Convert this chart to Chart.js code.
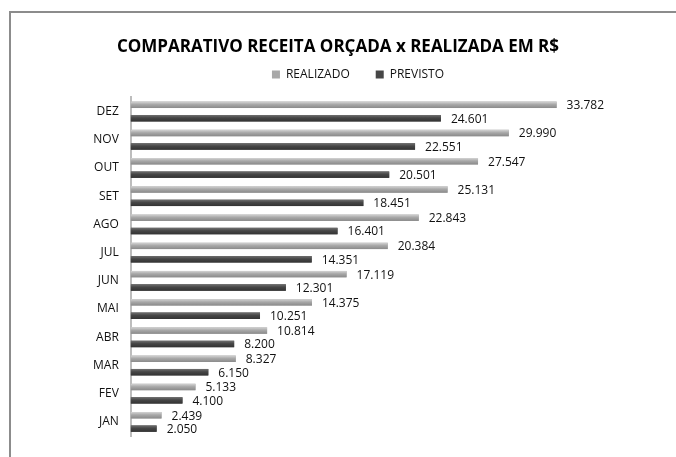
<!DOCTYPE html>
<html>
<head>
<meta charset="utf-8">
<script src="https://cdn.jsdelivr.net/npm/chart.js@4"></script>
<style>
  body { margin: 0; background: #fff; overflow: hidden; }
  #wrap { position: relative; width: 676px; height: 457px; overflow: hidden; }
  #frame { position: absolute; left: 9px; top: 11px; width: 720px; height: 500px;
           border-left: 2px solid #8c8c8c; border-top: 2px solid #8c8c8c; }
  canvas { position: absolute; left: 0; top: 0; }
</style>
</head>
<body>
<div id="wrap">
  <div id="frame"></div>
  <canvas id="receitaChart" width="676" height="457"></canvas>
</div>
<script>
// Dados do grafico
const meses = ['JAN', 'FEV', 'MAR', 'ABR', 'MAI', 'JUN', 'JUL', 'AGO', 'SET', 'OUT', 'NOV', 'DEZ'];
const realizado = [2439, 5133, 8327, 10814, 14375, 17119, 20384, 22843, 25131, 27547, 29990, 33782];
const previsto = [2050, 4100, 6150, 8200, 10251, 12301, 14351, 16401, 18451, 20501, 22551, 24601];

const fontBody = "'Open Sans', 'Liberation Sans', sans-serif";

// formata 33782 -> 33.782
function formatBR(v) {
    return String(v).replace(/\B(?=(\d{3})+(?!\d))/g, '.');
}

// um pouco mais de espaco abaixo da legenda
const legendSpacing = {
    id: 'legendSpacing',
    beforeInit(chart) {
        const fit = chart.legend.fit;
        chart.legend.fit = function () {
            fit.bind(chart.legend)();
            this.height += 7;
        };
    }
};

// titulo centrado na largura toda do canvas
const titleCenter = {
    id: 'titleCenter',
    afterLayout(chart) {
        chart.titleBlock.left = 0;
        chart.titleBlock.right = chart.width;
    }
};

// gradiente tipo cilindro por cima das barras
const barShading = {
    id: 'barShading',
    afterDatasetsDraw(chart) {
        const ctx = chart.ctx;
        const stops = [
            ['#d4d4d4', '#a8a8a8', '#8a8a8a'],
            ['#707070', '#464646', '#333333']
        ];
        chart.data.datasets.forEach((ds, i) => {
            const meta = chart.getDatasetMeta(i);
            meta.data.forEach(bar => {
                const p = bar.getProps(['x', 'y', 'base', 'height'], true);
                const top = p.y - p.height / 2;
                const g = ctx.createLinearGradient(0, top, 0, top + p.height);
                g.addColorStop(0, stops[i][0]);
                g.addColorStop(0.45, stops[i][1]);
                g.addColorStop(1, stops[i][2]);
                ctx.save();
                ctx.fillStyle = g;
                ctx.fillRect(p.base, top, p.x - p.base, p.height);
                ctx.restore();
            });
        });
    }
};

// rotulos de valor no fim das barras
const valueLabels = {
    id: 'valueLabels',
    afterDatasetsDraw(chart) {
        const ctx = chart.ctx;
        ctx.save();
        ctx.font = '12px ' + fontBody;
        ctx.fillStyle = '#111';
        ctx.textBaseline = 'middle';
        ctx.textAlign = 'left';
        chart.data.datasets.forEach((ds, i) => {
            const meta = chart.getDatasetMeta(i);
            meta.data.forEach((bar, j) => {
                ctx.fillText(formatBR(ds.data[j]), bar.x + 10, bar.y + 1);
            });
        });
        ctx.restore();
    }
};

const ctx = document.getElementById('receitaChart').getContext('2d');
const receitaChart = new Chart(ctx, {
    type: 'bar',
    data: {
        labels: meses,
        datasets: [
            {
                label: 'REALIZADO',
                data: realizado,
                backgroundColor: '#a8a8a8',
                borderWidth: 0
            },
            {
                label: 'PREVISTO',
                data: previsto,
                backgroundColor: '#464646',
                borderWidth: 0
            }
        ]
    },
    options: {
        indexAxis: 'y',
        responsive: false,
        animation: false,
        categoryPercentage: 0.95,
        barPercentage: 0.48,
        layout: {
            padding: { left: 81, right: 41, top: 18, bottom: 21 }
        },
        scales: {
            x: {
                display: false,
                min: 0,
                max: 40000
            },
            y: {
                reverse: true,
                grid: { display: false, drawTicks: false },
                border: { display: true, color: '#bdbdbd', width: 2 },
                ticks: {
                    color: '#111',
                    padding: 12,
                    font: { family: fontBody, size: 12 }
                }
            }
        },
        plugins: {
            title: {
                display: true,
                text: 'COMPARATIVO RECEITA ORÇADA x REALIZADA EM R$',
                color: '#000',
                font: { family: fontBody, size: 17, weight: 'bold' },
                padding: { top: 19, bottom: -15 }
            },
            legend: {
                position: 'top',
                labels: {
                    color: '#111',
                    boxWidth: 8,
                    boxHeight: 8,
                    padding: 26,
                    font: { family: fontBody, size: 12 }
                }
            },
            tooltip: { enabled: false }
        }
    },
    plugins: [legendSpacing, titleCenter, barShading, valueLabels]
});
</script>
</body>
</html>
